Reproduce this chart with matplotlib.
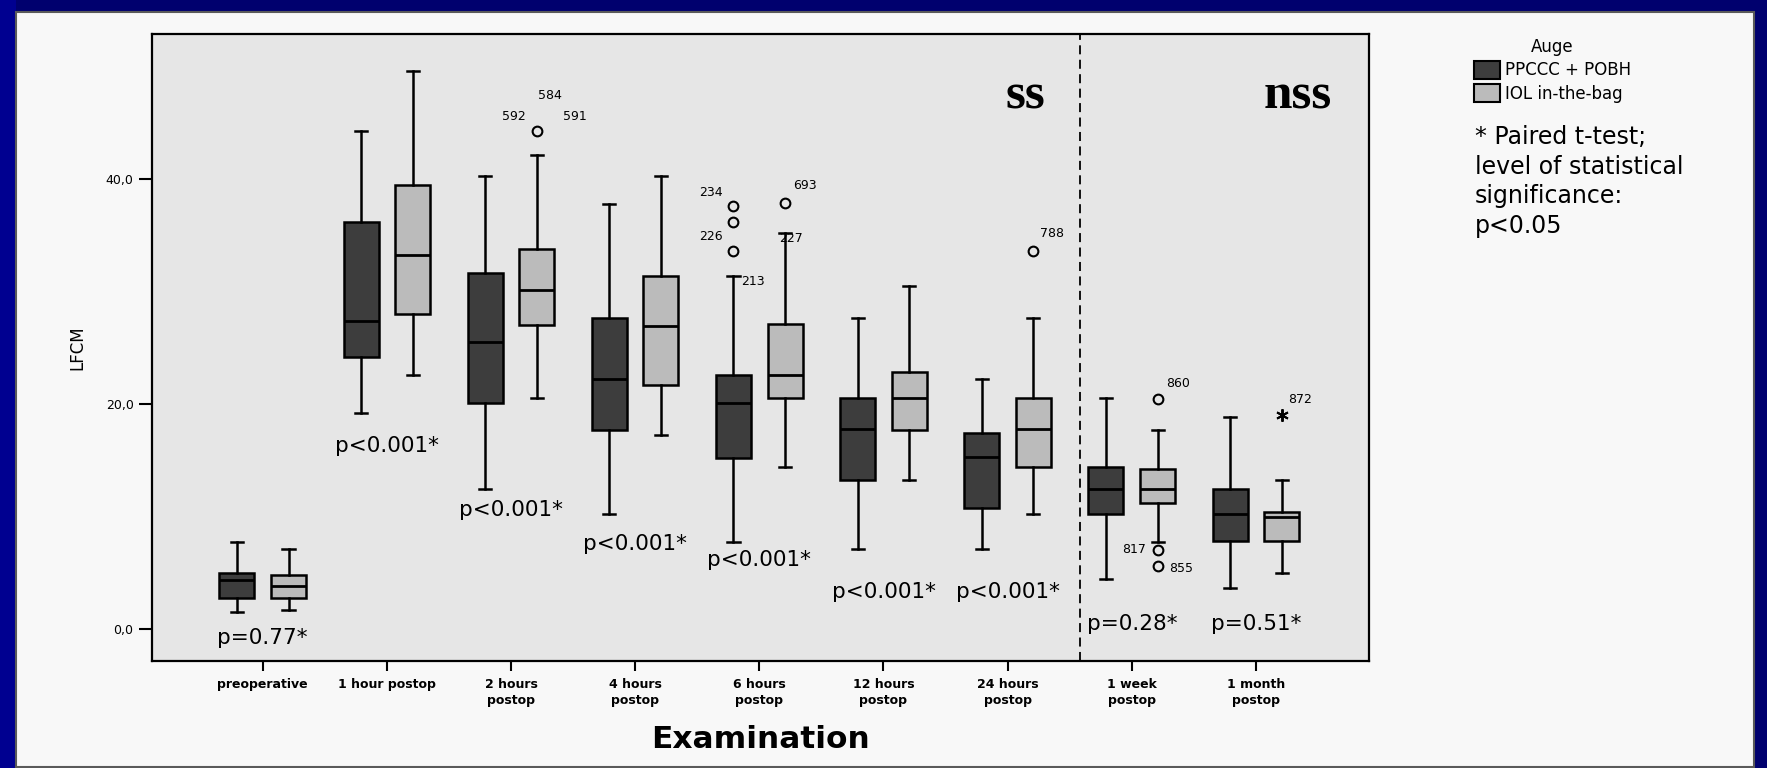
import matplotlib
matplotlib.use("Agg")
import matplotlib.pyplot as plt
from matplotlib.patches import Rectangle, Patch

# ---------------- data ----------------
categories = ["preoperative", "1 hour postop", "2 hours\npostop", "4 hours\npostop",
              "6 hours\npostop", "12 hours\npostop", "24 hours\npostop",
              "1 week\npostop", "1 month\npostop"]
series_names = ["PPCCC + POBH", "IOL in-the-bag"]

dark_whislo = [1.5, 19.2, 12.4, 10.2, 7.7, 7.1, 7.1, 4.4, 3.6]
dark_q1     = [2.7, 24.2, 20.1, 17.7, 15.2, 13.2, 10.7, 10.2, 7.8]
dark_med    = [4.3, 27.4, 25.5, 22.2, 20.1, 17.8, 15.3, 12.4, 10.2]
dark_q3     = [5.0, 36.2, 31.6, 27.6, 22.6, 20.5, 17.4, 14.4, 12.4]
dark_whishi = [7.7, 44.3, 40.3, 37.8, 31.4, 27.6, 22.2, 20.5, 18.8]

light_whislo = [1.7, 22.6, 20.5, 17.2, 14.4, 13.2, 10.2, 7.7, 5.0]
light_q1     = [2.7, 28.0, 27.0, 21.7, 20.5, 17.7, 14.4, 11.2, 7.8]
light_med    = [3.8, 33.2, 30.1, 26.9, 22.6, 20.5, 17.8, 12.4, 9.9]
light_q3     = [4.8, 39.5, 33.8, 31.4, 27.1, 22.8, 20.5, 14.2, 10.4]
light_whishi = [7.1, 49.6, 42.1, 40.3, 35.2, 30.5, 27.6, 17.7, 13.2]

# outliers (circles) and extreme values (asterisks)
outlier_cat = [2, 4, 4, 4, 4, 6, 7, 7, 7]
outlier_grp = [1, 0, 0, 0, 1, 1, 1, 1, 1]
outlier_val = [44.3, 37.6, 36.2, 33.6, 37.9, 33.6, 20.4, 7.0, 5.6]
extreme_cat = [8]
extreme_grp = [1]
extreme_val = [19.0]

# case-number labels
case_ids = ["592", "591", "584", "234", "226", "213", "693", "227", "788", "860", "817", "855", "872"]
case_cat = [2, 2, 2, 4, 4, 4, 4, 4, 6, 7, 7, 7, 8]
case_grp = [1, 1, 1, 0, 0, 0, 1, 1, 1, 1, 1, 1, 1]
case_val = [44.3, 44.3, 44.3, 37.6, 33.6, 31.4, 37.9, 35.2, 33.6, 20.4, 7.0, 5.6, 19.0]

# p-values (paired t-test)
p_texts = ["p=0.77*", "p<0.001*", "p<0.001*", "p<0.001*", "p<0.001*",
           "p<0.001*", "p<0.001*", "p=0.28*", "p=0.51*"]
p_label_y = [-0.8, 16.25, 10.56, 7.54, 6.11, 3.3, 3.3, 0.39, 0.39]

yticks = [0, 20, 40]
ytick_labels = ["0,0", "20,0", "40,0"]

# ---------------- styling / layout ----------------
W, H = 1767, 768
DARK = "#3d3d3d"
LIGHT = "#bbbbbb"
OFF = 0.208
BOXW = 0.282
case_offset_px = [(-23, 14), (38, 14), (13, 35), (-23, 14), (-23, 14), (19, -6),
                  (20, 17), (6, -6), (19, 17), (20, 16), (-24, 1), (24, -3), (18, 16)]
divider_x = 6.58

fig = plt.figure(figsize=(W / 100, H / 100), dpi=100, facecolor="#00006e")

bg = fig.add_axes([0, 0, 1, 1], zorder=-10)
bg.set_xlim(0, W)
bg.set_ylim(H, 0)
bg.axis("off")
bg.add_patch(Rectangle((0, 0), 16, H, facecolor="#000090", edgecolor="none"))
bg.add_patch(Rectangle((16, 12), 1754 - 16, 767 - 12, facecolor="#f8f8f8",
                       edgecolor="#5a5a5a", lw=1.5))

ax = fig.add_axes([151.7 / W, 1 - 661 / H, (1369.3 - 151.7) / W, (661 - 34) / H])
ax.set_facecolor("#e6e6e6")

xs = list(range(len(categories)))


def make_stats(lo, q1, med, q3, hi):
    return [dict(whislo=a, q1=b, med=c, q3=d, whishi=e, fliers=[])
            for a, b, c, d, e in zip(lo, q1, med, q3, hi)]


common = dict(widths=BOXW, patch_artist=True, showfliers=False, capwidths=0.097,
              medianprops=dict(color="black", lw=2.0),
              whiskerprops=dict(color="black", lw=1.8),
              capprops=dict(color="black", lw=1.8), manage_ticks=False)

ax.bxp(make_stats(dark_whislo, dark_q1, dark_med, dark_q3, dark_whishi),
       positions=[x - OFF for x in xs],
       boxprops=dict(facecolor=DARK, edgecolor="black", lw=1.8), **common)
ax.bxp(make_stats(light_whislo, light_q1, light_med, light_q3, light_whishi),
       positions=[x + OFF for x in xs],
       boxprops=dict(facecolor=LIGHT, edgecolor="black", lw=1.8), **common)

gx = lambda c, g: c - OFF if g == 0 else c + OFF

ax.plot([gx(c, g) for c, g in zip(outlier_cat, outlier_grp)], outlier_val, "o",
        mfc="none", mec="black", ms=7, mew=1.5, ls="none")
ax.plot([gx(c, g) for c, g in zip(extreme_cat, extreme_grp)], extreme_val,
        marker=(6, 2, 0), color="black", ms=9, mew=1.4, ls="none")

for t, c, g, v, off in zip(case_ids, case_cat, case_grp, case_val, case_offset_px):
    ax.annotate(t, (gx(c, g), v), xytext=off, textcoords="offset pixels",
                ha="center", va="center", fontsize=9)

for x, t, y in zip(xs, p_texts, p_label_y):
    ax.text(x, y, t, ha="center", va="center", fontsize=15.5)

ax.axvline(divider_x, color="black", ls=(0, (5, 3)), lw=1.3)

ax.text(6.30, 46.3, "ss", ha="right", va="baseline", fontfamily="Liberation Serif",
        fontweight="bold", fontsize=37)
ax.text(8.615, 46.3, "nss", ha="right", va="baseline", fontfamily="Liberation Serif",
        fontweight="bold", fontsize=37)

ax.set_xlim(-0.894, 8.913)
ax.set_ylim(-2.87, 52.9)
ax.set_xticks(xs)
ax.set_xticklabels(categories, fontsize=9, fontweight="bold")
for lab in ax.get_xticklabels():
    lab.set_linespacing(1.35)
ax.set_yticks(yticks)
ax.set_yticklabels(ytick_labels, fontsize=9)
ax.tick_params(axis="x", length=7.2, width=1.5, pad=5)
ax.tick_params(axis="y", length=9.6, width=1.5, pad=3.5)
for s in ax.spines.values():
    s.set_linewidth(1.6)
    s.set_color("black")

ax.set_ylabel("LFCM", fontsize=12, labelpad=14)
ax.set_xlabel("Examination", fontsize=22.5, fontweight="bold", labelpad=13)

handles = [Patch(facecolor=DARK, edgecolor="black", lw=1.5, label=series_names[0]),
           Patch(facecolor=LIGHT, edgecolor="black", lw=1.5, label=series_names[1])]
fig.legend(handles=handles, title="Auge", loc="upper left",
           bbox_to_anchor=(1474 / W, 1 - 38 / H), frameon=False, fontsize=12,
           title_fontsize=12, handlelength=1.56, handleheight=1.26,
           handletextpad=0.3, labelspacing=0.3, borderpad=0, borderaxespad=0)

fig.text(1474.7 / W, 1 - 125 / H,
         "* Paired t-test;\nlevel of statistical\nsignificance:\np<0.05",
         fontsize=17, ha="left", va="top", linespacing=1.3)

fig.savefig("out.png", dpi=100, facecolor=fig.get_facecolor())
